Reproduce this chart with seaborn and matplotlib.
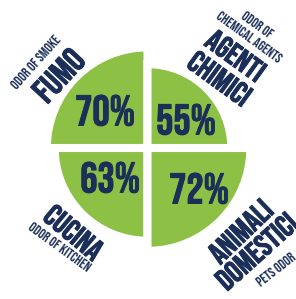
import numpy as np
import matplotlib
matplotlib.use("Agg")
import matplotlib.pyplot as plt
import matplotlib.patheffects as pe
import seaborn as sns

# data (quadrant order: top-left, top-right, bottom-left, bottom-right)
values = [70, 55, 63, 72]
angles_deg = [135, 45, 225, 315]
titles = [["FUMO"], ["AGENTI", "CHIMICI"], ["CUCINA"], ["ANIMALI", "DOMESTICI"]]
subtitles = [["ODOR OF SMOKE"], ["ODOR OF", "CHEMICAL AGENTS"], ["ODOR OF KITCHEN"], ["PETS ODOR"]]

GREEN = "#8cc145"
NAVY = "#1b2f58"
W, H = 296, 299

sns.set_style("white")
plt.rcParams["font.family"] = ["Bebas Neue", "DejaVu Sans"]

fig = plt.figure(figsize=(W / 100, H / 100), dpi=100)
fig.patch.set_facecolor("white")

# polar axes centred on the pie
cx, cy, rad = 147.5, 148, 123
ax = fig.add_axes([(cx - rad) / W, (H - cy - rad) / H, 2 * rad / W, 2 * rad / H],
                  projection="polar")
ax.bar(np.deg2rad(angles_deg), np.array(values) + 20, width=np.pi / 2, bottom=-20,
       color=GREEN, edgecolor="white", linewidth=5.8)
ax.set_ylim(-20, 90)
ax.axis("off")


def px(x, y):
    return x / W, 1 - y / H


bold = [pe.withStroke(linewidth=0.7, foreground=NAVY)]

# percent labels
pct_pos = [(105, 110), (186, 119), (110, 177), (199, 188)]
for v, (x, y) in zip(values, pct_pos):
    fig.text(*px(x, y), f"{v}%", color=NAVY, fontsize=31,
             ha="center", va="center", path_effects=bold)

# category labels: (text, x, y, rotation, size)
labels = [
    (subtitles[0][0], 36, 62, 48, 10),
    (titles[0][0], 58, 75, 47, 25),
    (subtitles[1][0], 257, 24, -36, 10),
    (subtitles[1][1], 249, 37, -36, 10),
    (titles[1][0], 236, 55, -36, 22),
    (titles[1][1], 220, 78, -36, 22),
    (titles[2][0], 74, 232, -40, 22),
    (subtitles[2][0], 60, 247, -36, 10),
    (titles[3][0], 240, 231, 44, 22),
    (titles[3][1], 256, 251, 42, 22),
    (subtitles[3][0], 276, 269, 38, 10),
]
for text, x, y, rot, size in labels:
    fig.text(*px(x, y), text, color=NAVY, fontsize=size,
             rotation=rot, rotation_mode="anchor", ha="center", va="center",
             path_effects=bold if size > 15 else None)

fig.savefig("out.png", dpi=100, facecolor="white")
